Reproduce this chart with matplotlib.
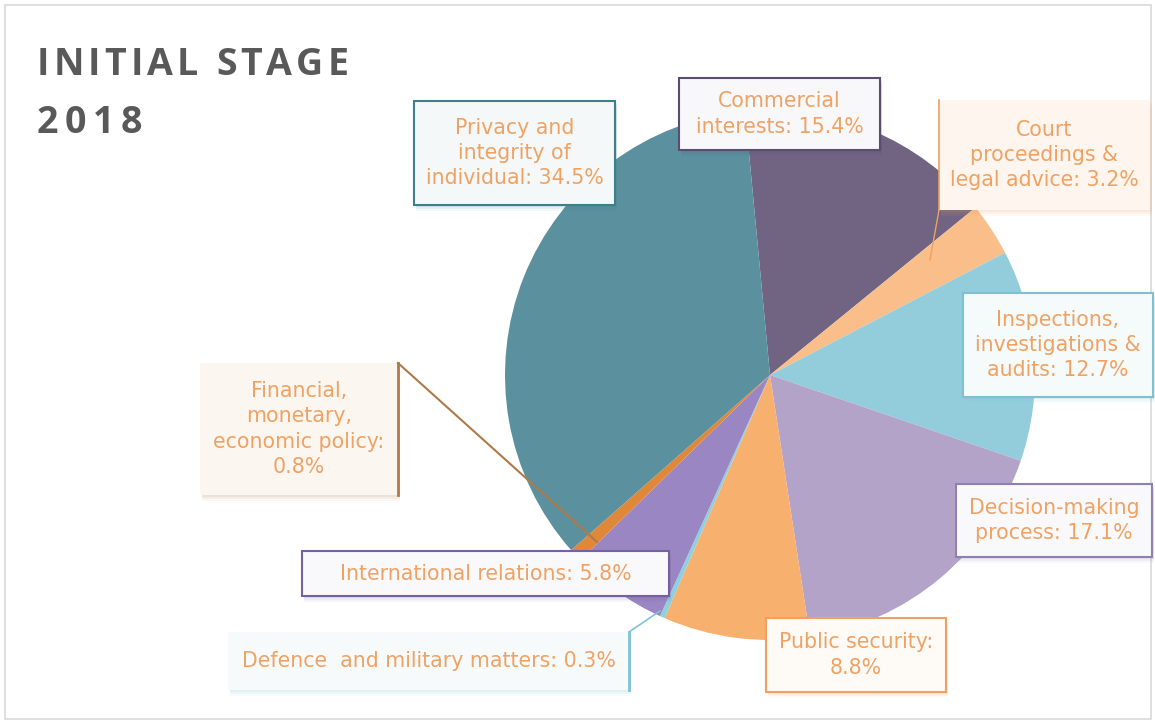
import matplotlib
matplotlib.use("Agg")
import matplotlib.pyplot as plt
from matplotlib.patches import Rectangle

# ---------------- data ----------------
categories = ["Commercial interests", "Court proceedings & legal advice",
              "Inspections, investigations & audits", "Decision-making process",
              "Public security", "Defence and military matters",
              "International relations", "Financial, monetary, economic policy",
              "Privacy and integrity of individual"]
values = [15.4, 3.2, 12.7, 17.1, 8.8, 0.3, 5.8, 0.8, 34.5]
label_texts = ["Commercial\ninterests: 15.4%",
               "Court\nproceedings &\nlegal advice: 3.2%",
               "Inspections,\ninvestigations &\naudits: 12.7%",
               "Decision-making\nprocess: 17.1%",
               "Public security:\n8.8%",
               "Defence  and military matters: 0.3%",
               "International relations: 5.8%",
               "Financial,\nmonetary,\neconomic policy:\n0.8%",
               "Privacy and\nintegrity of\nindividual: 34.5%"]
colors = ["#706482", "#f9be89", "#93cddc", "#b3a3c9", "#f7b06e",
          "#8fd0e0", "#9a86c2", "#e0883a", "#5b909f"]
title_lines = ["INITIAL STAGE", "2018"]

# ---------------- layout ----------------
W, H = 1155, 724
plt.rcParams['font.family'] = ['DejaVu Sans']
fig = plt.figure(figsize=(W / 100, H / 100), dpi=100)
ax = fig.add_axes([0, 0, 1, 1])

def Y(y):
    return H - y

cx, cy, R = 770, Y(375), 265
ax.pie(values, colors=colors, startangle=95.4, counterclock=False,
       center=(cx, cy), radius=R, wedgeprops=dict(linewidth=0))
ax.set_xlim(0, W)
ax.set_ylim(0, H)
ax.set_aspect('equal')
ax.axis('off')

# outer frame
ax.add_patch(Rectangle((5, Y(719)), 1146, 714, fill=False, ec="#d9d9d9", lw=1.2))

# title with letter spacing
renderer = fig.canvas.get_renderer()
for line, ytop, track in zip(title_lines, [75, 133], [4.0, 6.5]):
    x = 37
    for ch in line:
        t = ax.text(x, Y(ytop), ch, ha='left', va='baseline', fontsize=27,
                    fontweight='bold', color='#595959',
                    family=['Open Sans', 'DejaVu Sans'])
        if ch == ' ':
            w = 10
        else:
            bb = t.get_window_extent(renderer=renderer)
            w = bb.width
        x += w + track

txt_color = "#f0a263"

# boxes: (x0, y0, x1, y1, border color, fill, draw_border)
boxes = [
    (679, 78, 880, 150, "#5a4d72", "#f8f7fa", True),
    (939, 100, 1150, 210, None, "#fdf5ee", False),
    (963, 293, 1153, 397, "#7fc0d2", "#f5fafb", True),
    (956, 484, 1152, 557, "#8e80b2", "#f9f8fb", True),
    (766, 618, 946, 692, "#f0a060", "#fefaf6", True),
    (228, 632, 629, 690, None, "#f6fafb", False),
    (302, 551, 669, 596, "#76609e", "#f9f8fb", True),
    (200, 363, 398, 495, None, "#fcf6f0", False),
    (414, 101, 615, 205, "#3e7f8c", "#f4f8f9", True),
]
shadow_cols = ["#5a4d72", "#f0a060", "#7fc0d2", "#8e80b2", "#f0a060",
               "#7fc0d2", "#76609e", "#b07a48", "#3e7f8c"]

for (x0, y0, x1, y1, ec, fc, bd), sc, t in zip(boxes, shadow_cols, label_texts):
    for k, a in zip([6, 4, 2], [0.06, 0.08, 0.10]):
        ax.add_patch(Rectangle((x0 + 2, Y(y1 + k)), x1 - x0, y1 - y0,
                               fc=sc, ec='none', alpha=a, zorder=3))
    ax.add_patch(Rectangle((x0, Y(y1)), x1 - x0, y1 - y0, fc=fc,
                           ec=ec if bd else 'none', lw=1.5, zorder=4))
    ax.text((x0 + x1) / 2, Y((y0 + y1) / 2), t, ha='center', va='center',
            fontsize=14.8, color=txt_color, linespacing=1.32, zorder=5)

# leader lines
ax.plot([398, 398], [Y(363), Y(495)], color="#b07a48", lw=2, zorder=6)
ax.plot([398, 597], [Y(363), Y(542)], color="#b07a48", lw=1.5, zorder=6)
ax.plot([629, 629], [Y(632), Y(690)], color="#7fc4d4", lw=2, zorder=6)
ax.plot([629, 660], [Y(632), Y(611)], color="#7fc4d4", lw=1.2, zorder=6)
ax.plot([939, 939], [Y(100), Y(210)], color="#f0a060", lw=1.2, zorder=6)
ax.plot([939, 930], [Y(210), Y(260)], color="#f0a060", lw=1.0, zorder=6)

fig.savefig("out.png", dpi=100)
